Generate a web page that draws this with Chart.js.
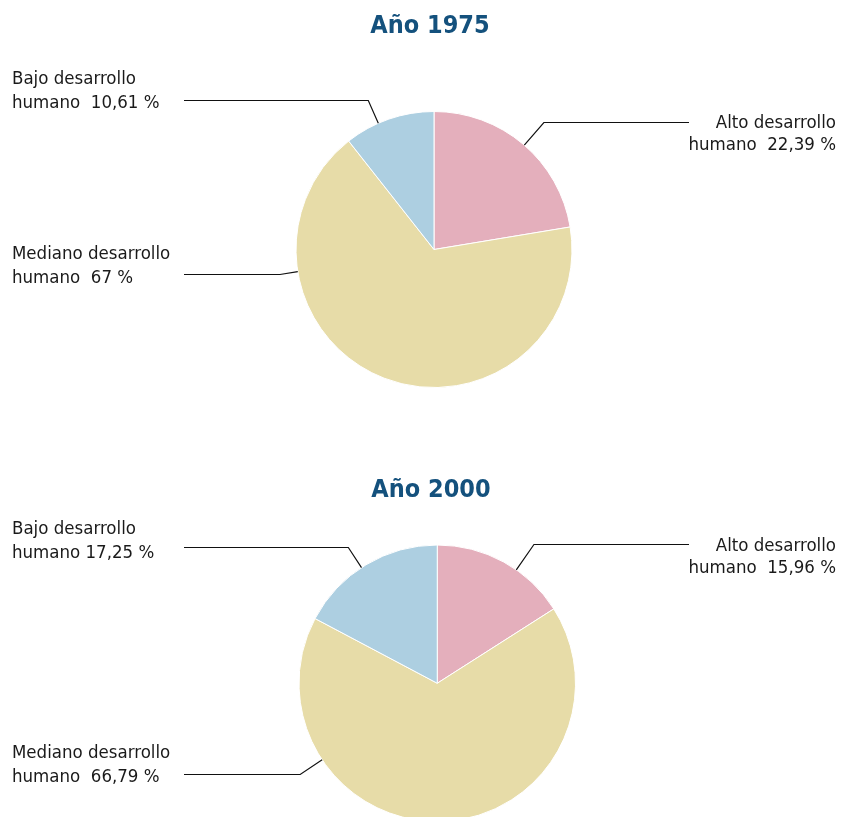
<!DOCTYPE html>
<html lang="es">
<head>
<meta charset="utf-8">
<title>Desarrollo humano, años 1975 y 2000</title>
<script src="https://cdn.jsdelivr.net/npm/chart.js@4.4.0/dist/chart.umd.min.js"></script>
<style>
  html, body { margin: 0; padding: 0; background: #fff; overflow: hidden; }
  body { width: 845px; height: 817px; position: relative; }
  canvas { position: absolute; left: 0; }
  #chart1975 { top: 0; }
  #chart2000 { top: 410px; }
</style>
</head>
<body>
<canvas id="chart1975" width="845" height="410"></canvas>
<canvas id="chart2000" width="845" height="430"></canvas>
<script>
// Datos
const categories = ["Alto desarrollo humano", "Mediano desarrollo humano", "Bajo desarrollo humano"];
const values1975 = [22.39, 67, 10.61];
const values2000 = [15.96, 66.79, 17.25];
const sliceColors = ["#e4afbc", "#e7dca8", "#adcfe1"];

const labelFont = '18.5px "Liberation Sans Narrow", "DejaVu Sans Condensed", sans-serif';
const titleFont = 'bold 25px "Liberation Sans Narrow", "DejaVu Sans Condensed", sans-serif';
const titleColor = "#14517d";

// posición de títulos y rótulos (coordenadas del canvas)
const layout1975 = {
  year: "1975",
  padding: { top: 111, bottom: 22, left: 295.5, right: 272.5 },
  titleX: 430, titleY: 33,
  labels: [
    { side: "right", y: 128, lineY: 122.5, frac: 0.507, gap: "  " },
    { side: "left", y: 258.5, lineY: 274.5, frac: 0.747, gap: "  " },
    { side: "left", y: 83.5, lineY: 100.5, frac: 0.377, gap: "  " }
  ]
};

const layout2000 = {
  year: "2000",
  padding: { top: 134.5, bottom: 18, left: 298.5, right: 269 },
  titleX: 431, titleY: 87,
  labels: [
    { side: "right", y: 140.5, lineY: 134.5, frac: 0.607, gap: "  " },
    { side: "left", y: 347.5, lineY: 364.5, frac: 0.744, gap: "  " },
    { side: "left", y: 124, lineY: 137.5, frac: 0.465, gap: " " }
  ]
};

function fmt(v) {
  return String(v).replace(".", ",") + " %";
}

const calloutPlugin = {
  id: "callouts",
  afterDraw(chart, args, opts) {
    const { ctx } = chart;
    const meta = chart.getDatasetMeta(0);
    const values = chart.data.datasets[0].data;

    ctx.save();
    ctx.font = titleFont;
    ctx.fillStyle = titleColor;
    ctx.textAlign = "center";
    ctx.textBaseline = "alphabetic";
    ctx.fillText("Año " + opts.year, opts.titleX, opts.titleY);

    ctx.strokeStyle = "#111";
    ctx.lineWidth = 1.2;
    ctx.font = labelFont;
    ctx.fillStyle = "#1a1a1a";

    meta.data.forEach((arc, i) => {
      const p = opts.labels[i];
      const a = arc.getProps(["x", "y", "startAngle", "endAngle", "outerRadius"], true);
      const ang = a.startAngle + p.frac * (a.endAngle - a.startAngle);
      const ax = a.x + a.outerRadius * Math.cos(ang);
      const ay = a.y + a.outerRadius * Math.sin(ang);
      const s = (p.lineY - a.y) / (ay - a.y);
      const ex = a.x + (ax - a.x) * s;
      const hx = p.side === "left" ? 184 : 689;

      ctx.beginPath();
      ctx.moveTo(ax, ay);
      ctx.lineTo(ex, p.lineY);
      ctx.lineTo(hx, p.lineY);
      ctx.stroke();

      const name = chart.data.labels[i];
      const cut = name.lastIndexOf(" ");
      const line1 = name.slice(0, cut);
      const line2 = name.slice(cut + 1) + p.gap + fmt(values[i]);
      if (p.side === "left") {
        ctx.textAlign = "left";
        ctx.fillText(line1, 12, p.y);
        ctx.fillText(line2, 12, p.y + 24);
      } else {
        ctx.textAlign = "right";
        ctx.fillText(line1, 836, p.y);
        ctx.fillText(line2, 836, p.y + 22);
      }
    });
    ctx.restore();
  }
};

function drawPie(id, values, layout) {
  return new Chart(document.getElementById(id), {
    type: "pie",
    data: {
      labels: categories,
      datasets: [{
        data: values,
        backgroundColor: sliceColors,
        borderColor: "#ffffff",
        borderWidth: 1
      }]
    },
    options: {
      responsive: false,
      animation: false,
      events: [],
      layout: { padding: layout.padding },
      plugins: {
        legend: { display: false },
        tooltip: { enabled: false },
        callouts: layout
      }
    },
    plugins: [calloutPlugin]
  });
}

drawPie("chart1975", values1975, layout1975);
drawPie("chart2000", values2000, layout2000);
</script>
</body>
</html>
